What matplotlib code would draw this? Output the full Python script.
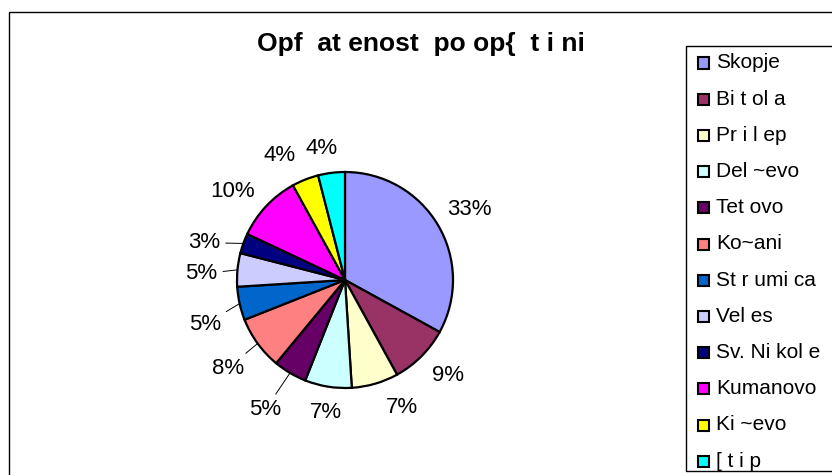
import numpy as np
import matplotlib
matplotlib.use("Agg")
import matplotlib.pyplot as plt
from matplotlib.patches import Rectangle

plt.rcParams['font.family'] = ['Liberation Sans', 'DejaVu Sans']

# data
cities = ["Skopje", "Bi t ol a", "Pr i l ep", "Del ~evo", "Tet ovo", "Ko~ani",
          "St r umi ca", "Vel es", "Sv. Ni kol e", "Kumanovo", "Ki ~evo", "[ t i p"]
shares = [33, 9, 7, 7, 5, 8, 5, 5, 3, 10, 4, 4]
colors = ["#9999FF", "#993366", "#FFFFCC", "#CCFFFF", "#660066", "#FF8080",
          "#0066CC", "#CCCCFF", "#000080", "#FF00FF", "#FFFF00", "#00FFFF"]
title = "Opf  at enost  po op{  t i ni"

# label placement (style)
label_dist = [1.32, 1.30, 1.29, 1.24, 1.41, 1.36, 1.36, 1.33, 1.35, 1.32, 1.30, 1.24]
label_nudge = [-1, 2, 8, 1, -1, 1, 5, 3, 5, 5, 6, 3]
has_leader = [False, False, False, False, True, True, True, True, True, False, False, False]

W, H = 832, 475
fig = plt.figure(figsize=(W / 100, H / 100), dpi=100)

# outer chart border
fig.add_artist(Rectangle((9 / W, 1 - 12 / H), 840 / W, -480 / H, transform=fig.transFigure,
                         fill=False, edgecolor="black", linewidth=1.0))

cx, cy, R = 345, 280, 108
half = 200
ax = fig.add_axes([(cx - half) / W, (H - cy - half) / H, 2 * half / W, 2 * half / H])
lim = half / R

wedges, _ = ax.pie(shares, colors=colors, startangle=90, counterclock=False, radius=1.0,
                   wedgeprops=dict(edgecolor="black", linewidth=1.6))
ax.set_xlim(-lim, lim)
ax.set_ylim(-lim, lim)
ax.axis("off")

total = float(sum(shares))
cum = np.cumsum([0] + shares)
for i, v in enumerate(shares):
    mid = 90 - 360 * (cum[i] + v / 2) / total
    a = np.deg2rad(mid + label_nudge[i])
    tx, ty = label_dist[i] * np.cos(a), label_dist[i] * np.sin(a)
    txt = f"{v}%"
    if has_leader[i]:
        m = np.deg2rad(mid)
        ax.annotate(txt, xy=(np.cos(m), np.sin(m)), xytext=(tx, ty), ha="center", va="center",
                    fontsize=16,
                    arrowprops=dict(arrowstyle="-", color="black", lw=0.7, shrinkA=2, shrinkB=0))
    else:
        ax.text(tx, ty, txt, ha="center", va="center", fontsize=16)

fig.text(421 / W, 1 - 44 / H, title, ha="center", va="center", fontsize=19, fontweight="bold")

# legend box
fig.add_artist(Rectangle((686 / W, 1 - 46 / H), 200 / W, -(471 - 46) / H, transform=fig.transFigure,
                         fill=False, edgecolor="black", linewidth=1.0))
row0, step = 63, 36.2
for i, (name, c) in enumerate(zip(cities, colors)):
    y = row0 + i * step
    fig.add_artist(Rectangle((698 / W, 1 - (y + 5.5) / H), 11 / W, 11 / H, transform=fig.transFigure,
                             facecolor=c, edgecolor="black", linewidth=1.5))
    fig.text(716 / W, 1 - y / H, name, ha="left", va="center", fontsize=15)

fig.savefig("out.png", dpi=100)
